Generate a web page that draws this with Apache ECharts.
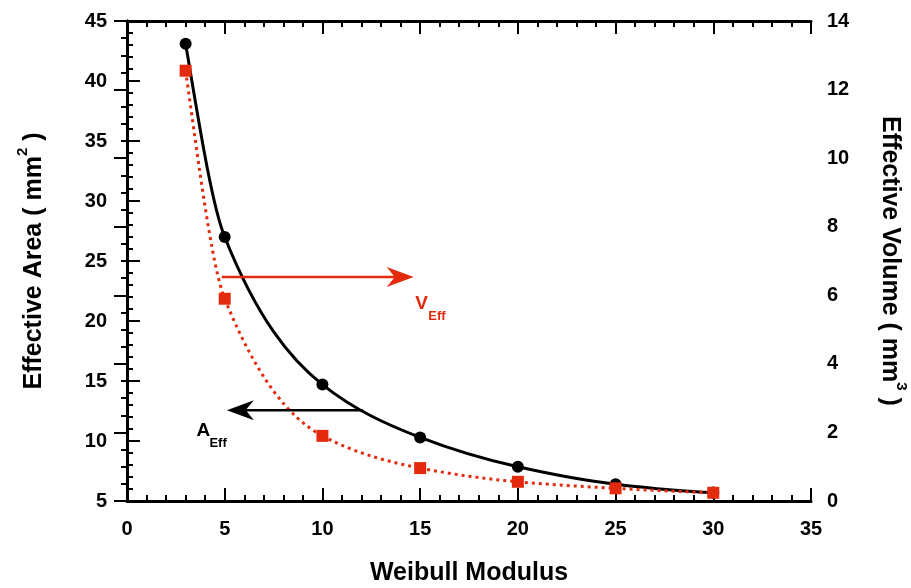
<!DOCTYPE html>
<html>
<head>
<meta charset="utf-8">
<script src="https://cdn.jsdelivr.net/npm/echarts@6/dist/echarts.min.js"></script>
<style>
  html, body { margin: 0; padding: 0; background: #fff; }
  #main { width: 911px; height: 588px; }
</style>
</head>
<body>
<div id="main"></div>
<script>
// data
const modulus = [3, 5, 10, 15, 20, 25, 30];
const effArea = [43.1, 27.0, 14.7, 10.3, 7.85, 6.4, 5.7];      // mm^2, left axis
const effVolume = [12.55, 5.9, 1.9, 0.96, 0.56, 0.37, 0.24];   // mm^3, right axis

// annotation arrows (data coords)
const areaArrow = [[12.08, 12.57], [5.11, 12.57]];   // left axis
const volArrow = [[4.85, 6.53], [14.67, 6.53]];      // right axis

const RED = '#e42a0c';
const FONT = 'Liberation Sans';

// monotone (pchip) tangents so the curve through the points doesn't wiggle
function pchipSlopes(xs, ys) {
  const n = xs.length, h = [], d = [], m = [];
  for (let i = 0; i < n - 1; i++) {
    h[i] = xs[i + 1] - xs[i];
    d[i] = (ys[i + 1] - ys[i]) / h[i];
  }
  for (let k = 1; k < n - 1; k++) {
    if (d[k - 1] * d[k] <= 0) { m[k] = 0; continue; }
    const w1 = 2 * h[k] + h[k - 1], w2 = h[k] + 2 * h[k - 1];
    m[k] = (w1 + w2) / (w1 / d[k - 1] + w2 / d[k]);
  }
  function endSlope(h0, h1, d0, d1) {
    let s = ((2 * h0 + h1) * d0 - h0 * d1) / (h0 + h1);
    if (Math.sign(s) !== Math.sign(d0)) s = 0;
    else if (Math.sign(d0) !== Math.sign(d1) && Math.abs(s) > 3 * Math.abs(d0)) s = 3 * d0;
    return s;
  }
  m[0] = endSlope(h[0], h[1], d[0], d[1]);
  m[n - 1] = endSlope(h[n - 2], h[n - 3], d[n - 2], d[n - 3]);
  return m;
}

function curveSeries(ys, yIdx, color, dash) {
  const m = pchipSlopes(modulus, ys);
  return {
    type: 'custom', xAxisIndex: 0, yAxisIndex: yIdx,
    data: modulus.map((x, i) => [x, ys[i]]),
    encode: { x: 0, y: 1 },
    silent: true,
    renderItem: function (params, api) {
      const i = params.dataIndex;
      if (i >= modulus.length - 1) return null;
      const x0 = modulus[i], x1 = modulus[i + 1], y0 = ys[i], y1 = ys[i + 1];
      const h = (x1 - x0) / 3;
      const a = api.coord([x0, y0]);
      const b = api.coord([x1, y1]);
      const c1 = api.coord([x0 + h, y0 + m[i] * h]);
      const c2 = api.coord([x1 - h, y1 - m[i + 1] * h]);
      return {
        type: 'bezierCurve',
        shape: { x1: a[0], y1: a[1], x2: b[0], y2: b[1], cpx1: c1[0], cpy1: c1[1], cpx2: c2[0], cpy2: c2[1] },
        style: { stroke: color, fill: null, lineWidth: 3, lineDash: dash }
      };
    }
  };
}

const chart = echarts.init(document.getElementById('main'));

const tickAxis = {
  axisLine: { show: true, lineStyle: { color: '#000', width: 3 } },
  axisTick: { show: true, inside: true, length: 13, lineStyle: { color: '#000', width: 2 } },
  minorTick: { show: true, splitNumber: 5, length: 6, lineStyle: { color: '#000', width: 2 } },
  splitLine: { show: false },
  axisLabel: { color: '#000', fontFamily: FONT, fontWeight: 'bold', fontSize: 20 }
};

const titleRich = {
  b: { color: '#000', fontFamily: FONT, fontWeight: 'bold', fontSize: 25, lineHeight: 32, verticalAlign: 'bottom' },
  s: { color: '#000', fontFamily: FONT, fontWeight: 'bold', fontSize: 15, lineHeight: 32, verticalAlign: 'top' }
};

const option = {
  animation: false,
  grid: { left: 127, right: 100, top: 21, bottom: 87, outerBoundsMode: 'none' },
  xAxis: [
    Object.assign({}, tickAxis, {
      type: 'value', min: 0, max: 35, interval: 5, position: 'bottom',
      axisLabel: Object.assign({}, tickAxis.axisLabel, { margin: 18 }),
      name: 'Weibull Modulus', nameLocation: 'middle', nameGap: 60,
      nameTextStyle: { color: '#000', fontFamily: FONT, fontWeight: 'bold', fontSize: 25 }
    }),
    Object.assign({}, tickAxis, {
      type: 'value', min: 0, max: 35, interval: 5, position: 'top',
      axisLabel: { show: false }
    })
  ],
  yAxis: [
    Object.assign({}, tickAxis, {
      type: 'value', min: 5, max: 45, interval: 5, position: 'left',
      axisLabel: Object.assign({}, tickAxis.axisLabel, { margin: 20 }),
      name: '{b|Effective Area ( mm}{s|2}{b| )}', nameLocation: 'middle', nameGap: 80,
      nameTextStyle: { rich: titleRich }
    }),
    Object.assign({}, tickAxis, {
      type: 'value', min: 0, max: 14, interval: 2, position: 'right',
      minorTick: Object.assign({}, tickAxis.minorTick, { splitNumber: 4 }),
      axisLabel: Object.assign({}, tickAxis.axisLabel, { margin: 16 }),
      name: '{b|Effective Volume ( mm}{s|3}{b| )}', nameLocation: 'middle', nameGap: 66, nameRotate: -90,
      nameTextStyle: { rich: titleRich }
    })
  ],
  series: [
    curveSeries(effArea, 0, '#000', null),
    {
      name: 'A_Eff', type: 'scatter', xAxisIndex: 0, yAxisIndex: 0,
      data: modulus.map((m, i) => [m, effArea[i]]),
      symbol: 'circle', symbolSize: 12,
      itemStyle: { color: '#000', opacity: 1 }
    },
    curveSeries(effVolume, 1, RED, [3, 4]),
    {
      name: 'V_Eff', type: 'scatter', xAxisIndex: 0, yAxisIndex: 1,
      data: modulus.map((m, i) => [m, effVolume[i]]),
      symbol: 'rect', symbolSize: 12,
      itemStyle: { color: RED, opacity: 1 }
    }
  ]
};

chart.setOption(option);

function arrow(from, to, yIdx, color) {
  const p0 = chart.convertToPixel({ xAxisIndex: 0, yAxisIndex: yIdx }, from);
  const p1 = chart.convertToPixel({ xAxisIndex: 0, yAxisIndex: yIdx }, to);
  const dir = p1[0] > p0[0] ? 1 : -1;
  const t = p1[0];
  const y = p1[1];
  return [
    { type: 'line', shape: { x1: p0[0], y1: p0[1], x2: t - dir * 6, y2: y }, style: { stroke: color, lineWidth: 2.5 }, z: 10 },
    {
      type: 'polygon', z: 10,
      shape: { points: [[t, y], [t - dir * 27, y - 10], [t - dir * 20, y - 1.3], [t - dir * 20, y + 1.3], [t - dir * 27, y + 10]] },
      style: { fill: color }
    }
  ];
}

function label(anchor, yIdx, main, sub, color) {
  const p = chart.convertToPixel({ xAxisIndex: 0, yAxisIndex: yIdx }, anchor);
  return [
    { type: 'text', x: p[0], y: p[1], z: 10, style: { text: main, fill: color, font: 'bold 19px ' + FONT, textAlign: 'left', textVerticalAlign: 'middle' } },
    { type: 'text', x: p[0] + 13, y: p[1] + 13, z: 10, style: { text: sub, fill: color, font: 'bold 13px ' + FONT, textAlign: 'left', textVerticalAlign: 'middle' } }
  ];
}

chart.setOption({
  graphic: [].concat(
    arrow(areaArrow[0], areaArrow[1], 0, '#000'),
    arrow(volArrow[0], volArrow[1], 1, RED),
    label([3.55, 10.85], 0, 'A', 'Eff', '#000'),
    label([14.75, 5.75], 1, 'V', 'Eff', RED)
  )
});
</script>
</body>
</html>
